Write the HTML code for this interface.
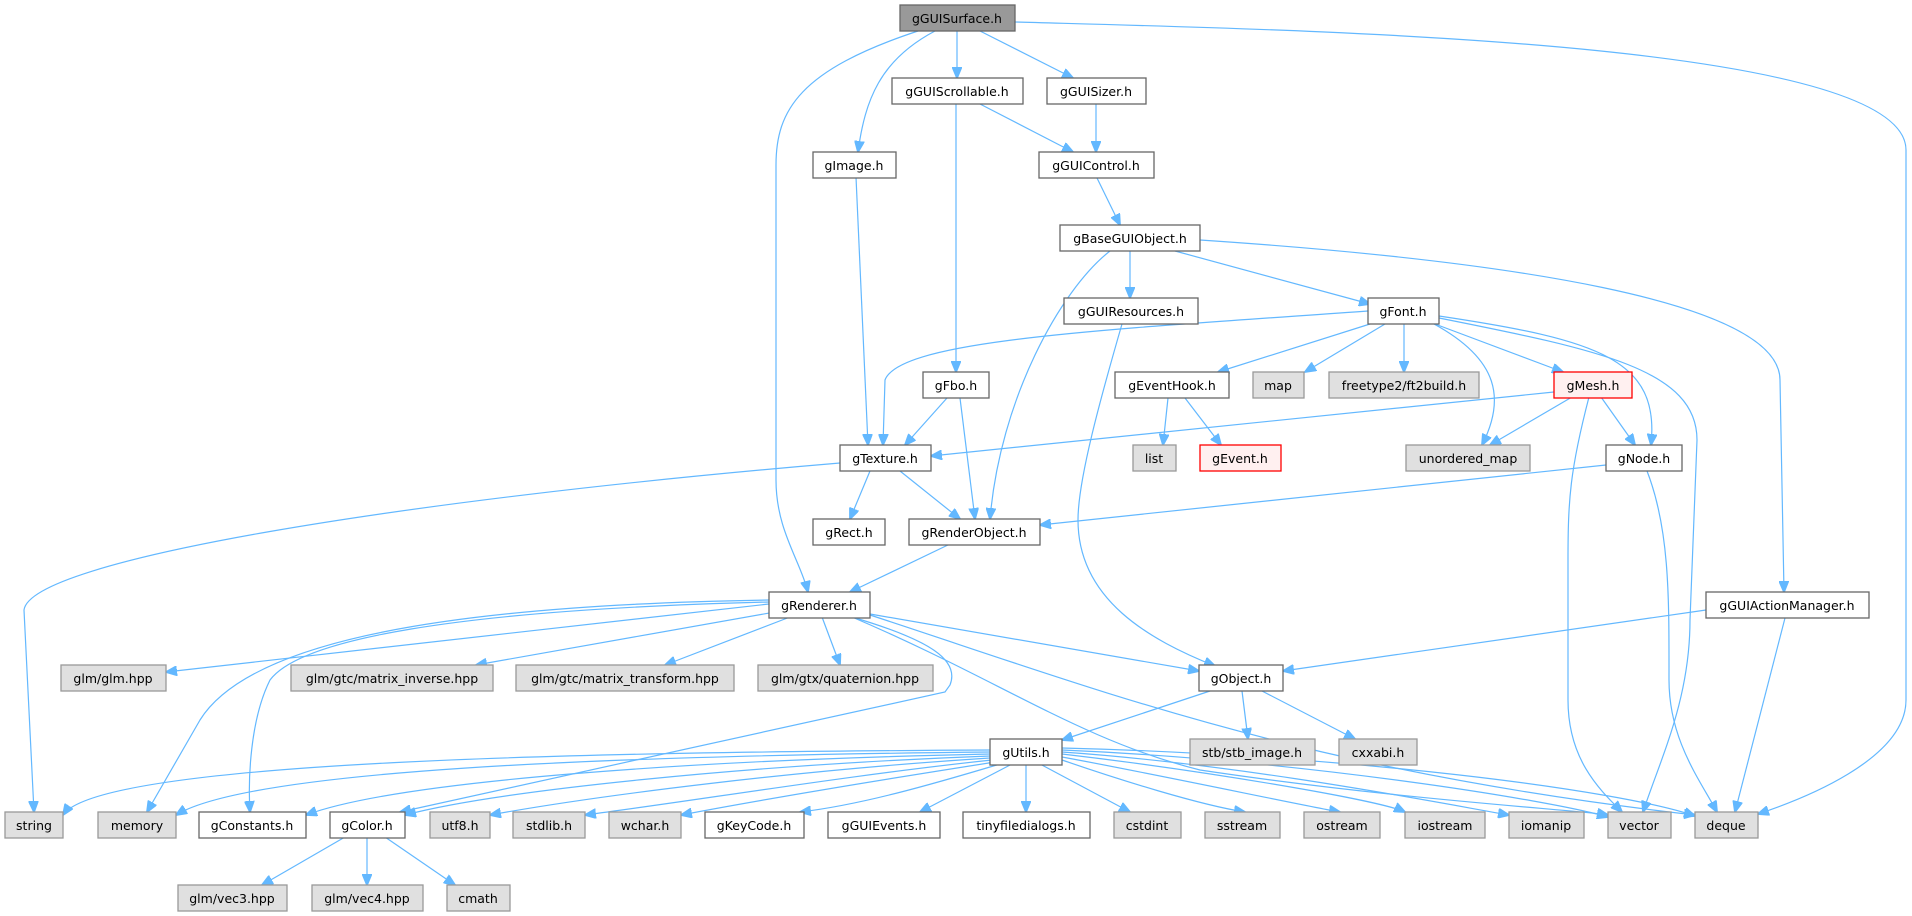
<!DOCTYPE html>
<html><head><meta charset="utf-8"><style>
html,body{margin:0;padding:0;background:#fff;}
svg{display:block;}
text{font-family:"DejaVu Sans","Liberation Sans",sans-serif;font-size:12.5px;fill:#000;text-anchor:middle;}
.w{fill:#fff;stroke:#666;stroke-width:1.3;}
.g{fill:#e0e0e0;stroke:#999;stroke-width:1.3;}
.r{fill:#fff0f0;stroke:#f00;stroke-width:1.3;}
.s{fill:#999;stroke:#666;stroke-width:1.3;}
path{fill:none;stroke:#63b8ff;stroke-width:1.2;marker-end:url(#a);}
</style></head><body>
<svg width="1912" height="916" viewBox="0 0 1912 916" xmlns="http://www.w3.org/2000/svg">
<defs><marker id="a" markerUnits="userSpaceOnUse" markerWidth="12" markerHeight="10" refX="11" refY="5" orient="auto"><polygon points="0,0 12,5 0,10" fill="#63b8ff" stroke="#63b8ff"/></marker></defs>
<g>
<path d="M918,31 C800,70 776,110 776,165 L776,480 C776,530 800,560 808,592"/>
<path d="M935,31 C880,60 865,100 858,152"/>
<path d="M957,31 L957,78"/>
<path d="M980,31 L1073,78"/>
<path d="M1015,22 C1300,30 1906,40 1906,150 L1906,700 C1906,760 1800,800 1758,814"/>
<path d="M980,104 L1073,152"/>
<path d="M956,104 L956,372"/>
<path d="M1096,104 L1096,152"/>
<path d="M856,177 L868,445"/>
<path d="M1097,178 L1120,225"/>
<path d="M1130,251 L1130,298"/>
<path d="M1175,251 L1370,304"/>
<path d="M1110,251 C1060,290 1000,400 990,519"/>
<path d="M1200,240 C1500,260 1780,300 1780,380 L1784,592"/>
<path d="M1122,324 C1100,400 1078,480 1078,520 C1078,600 1150,640 1215,666"/>
<path d="M1368,311 C1100,330 900,340 885,380 L883,445"/>
<path d="M1370,324 L1218,372"/>
<path d="M1385,324 L1305,372"/>
<path d="M1404,324 L1404,372"/>
<path d="M1434,324 C1500,360 1505,400 1482,445"/>
<path d="M1435,324 L1563,372"/>
<path d="M1439,316 C1600,340 1660,360 1651,445"/>
<path d="M1439,318 C1600,350 1697,370 1697,440 L1690,620 C1690,700 1660,760 1643,812"/>
<path d="M1168,398 L1163,445"/>
<path d="M1185,398 L1221,445"/>
<path d="M1554,392 L931,456"/>
<path d="M1572,397 L1490,445"/>
<path d="M1601,397 L1635,445"/>
<path d="M1589,397 C1570,470 1568,500 1568,560 L1568,700 C1568,760 1600,790 1622,812"/>
<path d="M1606,465 L1040,525"/>
<path d="M1647,471 C1670,530 1669,600 1669,680 C1669,740 1700,780 1717,812"/>
<path d="M947,398 L905,445"/>
<path d="M960,398 L975,519"/>
<path d="M840,463 C400,500 30,560 24,610 L34,812"/>
<path d="M870,471 L850,519"/>
<path d="M900,471 L960,519"/>
<path d="M950,544 L850,592"/>
<path d="M769,604 L166,672"/>
<path d="M775,612 L476,665"/>
<path d="M790,617 L665,665"/>
<path d="M822,617 L840,665"/>
<path d="M769,600 C450,605 250,640 200,720 L147,812"/>
<path d="M769,602 C450,610 300,640 270,680 C250,720 248,780 250,812"/>
<path d="M852,617 C930,640 960,660 950,685 L945,692 L400,812"/>
<path d="M870,614 L1199,671"/>
<path d="M852,617 C1000,680 1080,740 1200,770 C1400,800 1580,810 1608,815"/>
<path d="M870,615 C1100,690 1300,770 1695,815"/>
<path d="M1210,691 L1062,740"/>
<path d="M1242,691 L1248,739"/>
<path d="M1262,691 L1355,739"/>
<path d="M1706,610 L1283,671"/>
<path d="M1785,618 L1735,812"/>
<path d="M345,837 L262,885"/>
<path d="M367,837 L367,885"/>
<path d="M385,837 L455,885"/>
<!-- gUtils edges -->
<path d="M990,750 C600,752 100,760 63,815"/>
<path d="M990,752 C600,756 250,770 176,815"/>
<path d="M990,754 C700,760 400,780 306,815"/>
<path d="M990,756 C750,765 500,790 405,815"/>
<path d="M990,758 C800,770 600,795 490,815"/>
<path d="M992,760 C850,775 700,800 585,815"/>
<path d="M995,762 C880,780 760,800 681,815"/>
<path d="M1000,764 C930,785 860,805 800,812"/>
<path d="M1012,764 L920,812"/>
<path d="M1026,764 L1026,812"/>
<path d="M1040,764 L1130,812"/>
<path d="M1062,760 C1120,780 1200,805 1245,812"/>
<path d="M1062,757 C1160,775 1300,805 1340,812"/>
<path d="M1062,754 C1200,770 1380,800 1405,812"/>
<path d="M1062,752 C1250,765 1450,805 1509,815"/>
<path d="M1062,750 C1300,760 1550,800 1608,817"/>
<path d="M1062,748 C1350,755 1620,790 1695,816"/>
</g>
<g>
<rect class="s" x="900" y="5" width="115" height="26"/><text x="957" y="23">gGUISurface.h</text>
<rect class="w" x="892" y="78" width="131" height="26"/><text x="957" y="96">gGUIScrollable.h</text>
<rect class="w" x="1047" y="78" width="99" height="26"/><text x="1096" y="96">gGUISizer.h</text>
<rect class="w" x="813" y="152" width="83" height="26"/><text x="854" y="170">gImage.h</text>
<rect class="w" x="1039" y="152" width="115" height="26"/><text x="1096" y="170">gGUIControl.h</text>
<rect class="w" x="1060" y="225" width="140" height="26"/><text x="1130" y="243">gBaseGUIObject.h</text>
<rect class="w" x="1064" y="298" width="134" height="26"/><text x="1131" y="316">gGUIResources.h</text>
<rect class="w" x="1368" y="298" width="71" height="26"/><text x="1403" y="316">gFont.h</text>
<rect class="w" x="923" y="372" width="66" height="26"/><text x="956" y="390">gFbo.h</text>
<rect class="w" x="1115" y="372" width="114" height="26"/><text x="1172" y="390">gEventHook.h</text>
<rect class="g" x="1253" y="372" width="51" height="26"/><text x="1278" y="390">map</text>
<rect class="g" x="1329" y="372" width="150" height="26"/><text x="1404" y="390">freetype2/ft2build.h</text>
<rect class="r" x="1554" y="372" width="78" height="26"/><text x="1593" y="390">gMesh.h</text>
<rect class="w" x="840" y="445" width="91" height="26"/><text x="885" y="463">gTexture.h</text>
<rect class="g" x="1133" y="445" width="43" height="26"/><text x="1154" y="463">list</text>
<rect class="r" x="1200" y="445" width="81" height="26"/><text x="1240" y="463">gEvent.h</text>
<rect class="g" x="1406" y="445" width="124" height="26"/><text x="1468" y="463">unordered_map</text>
<rect class="w" x="1606" y="445" width="76" height="26"/><text x="1644" y="463">gNode.h</text>
<rect class="w" x="813" y="519" width="72" height="26"/><text x="849" y="537">gRect.h</text>
<rect class="w" x="909" y="519" width="131" height="26"/><text x="974" y="537">gRenderObject.h</text>
<rect class="w" x="769" y="592" width="101" height="26"/><text x="819" y="610">gRenderer.h</text>
<rect class="w" x="1706" y="592" width="163" height="26"/><text x="1787" y="610">gGUIActionManager.h</text>
<rect class="g" x="61" y="665" width="105" height="26"/><text x="113" y="683">glm/glm.hpp</text>
<rect class="g" x="291" y="665" width="202" height="26"/><text x="392" y="683">glm/gtc/matrix_inverse.hpp</text>
<rect class="g" x="516" y="665" width="218" height="26"/><text x="625" y="683">glm/gtc/matrix_transform.hpp</text>
<rect class="g" x="758" y="665" width="175" height="26"/><text x="845" y="683">glm/gtx/quaternion.hpp</text>
<rect class="w" x="1199" y="665" width="84" height="26"/><text x="1241" y="683">gObject.h</text>
<rect class="w" x="990" y="739" width="72" height="26"/><text x="1026" y="757">gUtils.h</text>
<rect class="g" x="1190" y="739" width="125" height="26"/><text x="1252" y="757">stb/stb_image.h</text>
<rect class="g" x="1339" y="739" width="78" height="26"/><text x="1378" y="757">cxxabi.h</text>
<rect class="g" x="5" y="812" width="58" height="26"/><text x="34" y="830">string</text>
<rect class="g" x="98" y="812" width="78" height="26"/><text x="137" y="830">memory</text>
<rect class="w" x="199" y="812" width="107" height="26"/><text x="252" y="830">gConstants.h</text>
<rect class="w" x="330" y="812" width="75" height="26"/><text x="367" y="830">gColor.h</text>
<rect class="g" x="430" y="812" width="60" height="26"/><text x="460" y="830">utf8.h</text>
<rect class="g" x="513" y="812" width="72" height="26"/><text x="549" y="830">stdlib.h</text>
<rect class="g" x="609" y="812" width="72" height="26"/><text x="645" y="830">wchar.h</text>
<rect class="w" x="705" y="812" width="99" height="26"/><text x="754" y="830">gKeyCode.h</text>
<rect class="w" x="828" y="812" width="112" height="26"/><text x="884" y="830">gGUIEvents.h</text>
<rect class="w" x="963" y="812" width="127" height="26"/><text x="1026" y="830">tinyfiledialogs.h</text>
<rect class="g" x="1114" y="812" width="67" height="26"/><text x="1147" y="830">cstdint</text>
<rect class="g" x="1205" y="812" width="75" height="26"/><text x="1242" y="830">sstream</text>
<rect class="g" x="1304" y="812" width="76" height="26"/><text x="1342" y="830">ostream</text>
<rect class="g" x="1405" y="812" width="80" height="26"/><text x="1445" y="830">iostream</text>
<rect class="g" x="1509" y="812" width="75" height="26"/><text x="1546" y="830">iomanip</text>
<rect class="g" x="1608" y="812" width="63" height="26"/><text x="1639" y="830">vector</text>
<rect class="g" x="1695" y="812" width="63" height="26"/><text x="1726" y="830">deque</text>
<rect class="g" x="178" y="885" width="109" height="26"/><text x="232" y="903">glm/vec3.hpp</text>
<rect class="g" x="312" y="885" width="111" height="26"/><text x="367" y="903">glm/vec4.hpp</text>
<rect class="g" x="447" y="885" width="63" height="26"/><text x="478" y="903">cmath</text>
</g>
</svg>
</body></html>
